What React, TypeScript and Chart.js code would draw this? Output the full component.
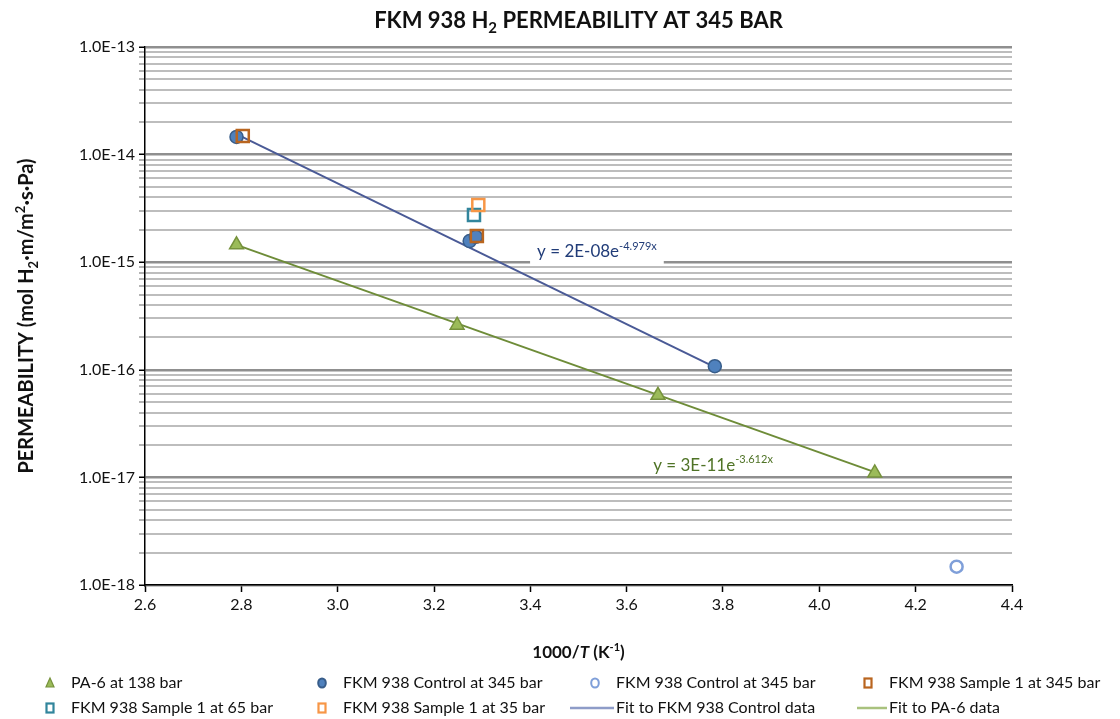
import React, { useEffect, useRef } from 'react';
import { Chart, registerables } from 'chart.js';

Chart.register(...registerables);

type Seg = { t: string; s?: 'i' | 'sub' | 'sup' };

const FONT = 'Lato, "Open Sans", sans-serif';

// ---- data ----
const paX = [2.79, 3.248, 3.665, 4.115];
const paY = [1.45e-15, 2.6e-16, 5.8e-17, 1.1e-17];

const ctrlX = [2.79, 3.274, 3.287, 3.783];
const ctrlY = [1.46e-14, 1.57e-15, 1.72e-15, 1.08e-16];

const ctrlOpenX = [4.285];
const ctrlOpenY = [1.48e-18];

const s345X = [2.803, 3.289];
const s345Y = [1.49e-14, 1.75e-15];

const s65X = [3.283];
const s65Y = [2.75e-15];

const s35X = [3.292];
const s35Y = [3.4e-15];

const fitCtrlX = [2.79, 3.783];
const fitCtrlY = [1.55e-14, 1.06e-16];

const fitPaX = [2.79, 4.115];
const fitPaY = [1.45e-15, 1.12e-17];

const xTicks = [2.6, 2.8, 3.0, 3.2, 3.4, 3.6, 3.8, 4.0, 4.2, 4.4];
const yDecades = [1e-18, 1e-17, 1e-16, 1e-15, 1e-14, 1e-13];
const yMinorMult = [2, 3, 4, 5, 6, 7, 8, 9];

const titleSegs: Seg[] = [{ t: 'FKM 938 H' }, { t: '2', s: 'sub' }, { t: ' PERMEABILITY AT 345 BAR' }];
const xTitleSegs: Seg[] = [{ t: '1000/' }, { t: 'T', s: 'i' }, { t: ' (K' }, { t: '-1', s: 'sup' }, { t: ')' }];
const yTitleSegs: Seg[] = [
  { t: 'PERMEABILITY (mol H' }, { t: '2', s: 'sub' }, { t: '·m/m' }, { t: '2', s: 'sup' }, { t: '·s·Pa)' },
];
const eqCtrlSegs: Seg[] = [{ t: 'y = 2E-08e' }, { t: '-4.979x', s: 'sup' }];
const eqPaSegs: Seg[] = [{ t: 'y = 3E-11e' }, { t: '-3.612x', s: 'sup' }];
const eqCtrlAt = { x: 3.414, y: 1.245e-15 };
const eqPaAt = { x: 3.655, y: 1.3e-17 };

const labels = [
  'PA-6 at 138 bar',
  'FKM 938 Control at 345 bar',
  'FKM 938 Control at 345 bar',
  'FKM 938 Sample 1 at 345 bar',
  'FKM 938 Sample 1 at 65 bar',
  'FKM 938 Sample 1 at 35 bar',
  'Fit to FKM 938 Control data',
  'Fit to PA-6 data',
];

const C = {
  paFill: '#9BBB59',
  paLine: '#76923C',
  ctrlFill: '#4F81BD',
  ctrlLine: '#385D8A',
  ctrlOpen: '#7F9FD9',
  s345: '#B9651F',
  s65: '#31859C',
  s35: '#F79646',
  fitCtrl: '#4A5A96',
  fitPa: '#6E8C38',
  eqCtrl: '#213C78',
  eqPa: '#4F7326',
};

const zip = (xs: number[], ys: number[]) => xs.map((x, i) => ({ x, y: ys[i] }));
const isDecade = (v: number) => Math.abs(Math.log10(v) - Math.round(Math.log10(v))) < 1e-6;

function segFont(s: Seg, size: number, weight: string) {
  const sz = s.s === 'sub' || s.s === 'sup' ? Math.round(size * 0.66) : size;
  return `${s.s === 'i' ? 'italic ' : ''}${weight} ${sz}px ${FONT}`;
}

function measureRich(ctx: CanvasRenderingContext2D, segs: Seg[], size: number, weight: string) {
  let w = 0;
  for (const s of segs) {
    ctx.font = segFont(s, size, weight);
    w += ctx.measureText(s.t).width;
  }
  return w;
}

function drawRich(
  ctx: CanvasRenderingContext2D,
  segs: Seg[],
  x: number,
  y: number,
  size: number,
  weight: string,
  color: string,
  align: 'center' | 'left',
) {
  const w = measureRich(ctx, segs, size, weight);
  let cx = align === 'center' ? x - w / 2 : x;
  ctx.fillStyle = color;
  ctx.textBaseline = 'middle';
  ctx.textAlign = 'left';
  for (const s of segs) {
    ctx.font = segFont(s, size, weight);
    const dy = s.s === 'sub' ? size * 0.32 : s.s === 'sup' ? -size * 0.32 : 0;
    ctx.fillText(s.t, cx, y + dy);
    cx += ctx.measureText(s.t).width;
  }
  return w;
}

type LegendItem = { label: string; kind: string; fill: string; stroke: string; col: number; row: number; lineLen?: number };
const legendItems: LegendItem[] = [
  { label: labels[0], kind: 'tri', fill: C.paFill, stroke: C.paLine, col: 0, row: 0 },
  { label: labels[1], kind: 'circle', fill: C.ctrlFill, stroke: C.ctrlLine, col: 1, row: 0 },
  { label: labels[2], kind: 'circle', fill: '#ffffff', stroke: C.ctrlOpen, col: 2, row: 0 },
  { label: labels[3], kind: 'rect', fill: '#ffffff', stroke: C.s345, col: 3, row: 0 },
  { label: labels[4], kind: 'rect', fill: '#ffffff', stroke: C.s65, col: 0, row: 1 },
  { label: labels[5], kind: 'rect', fill: '#ffffff', stroke: C.s35, col: 1, row: 1 },
  { label: labels[6], kind: 'line', fill: '', stroke: '#8E9CC8', col: 2, row: 1, lineLen: 44 },
  { label: labels[7], kind: 'line', fill: '', stroke: '#A9C27E', col: 3, row: 1, lineLen: 30 },
];
const legendTextX = [71, 343, 616, 889];
const legendRowY = [683, 708];

const overlay = {
  id: 'overlay',
  afterDraw(chart: any) {
    const { ctx, chartArea, scales } = chart;
    const cx = (chartArea.left + chartArea.right) / 2;
    ctx.save();
    // title
    drawRich(ctx, titleSegs, cx, 21, 22, 'bold', '#111', 'center');
    // axis titles
    drawRich(ctx, xTitleSegs, cx, 653, 17, 'bold', '#111', 'center');
    ctx.save();
    ctx.translate(27, (chartArea.top + chartArea.bottom) / 2);
    ctx.rotate(-Math.PI / 2);
    drawRich(ctx, yTitleSegs, 0, 0, 20, 'bold', '#111', 'center');
    ctx.restore();

    // equation labels
    const eqs = [
      { segs: eqCtrlSegs, at: eqCtrlAt, color: C.eqCtrl, box: true },
      { segs: eqPaSegs, at: eqPaAt, color: C.eqPa, box: false },
    ];
    for (const e of eqs) {
      const px = scales.x.getPixelForValue(e.at.x);
      const py = scales.y.getPixelForValue(e.at.y);
      const w = measureRich(ctx, e.segs, 17, 'normal');
      if (e.box) {
        ctx.fillStyle = '#ffffff';
        ctx.fillRect(px - 7, py - 13, w + 14, 26);
      }
      drawRich(ctx, e.segs, px, py, 17, 'normal', e.color, 'left');
    }

    // legend
    for (const it of legendItems) {
      const tx = legendTextX[it.col];
      const y = legendRowY[it.row];
      ctx.lineWidth = 2;
      ctx.strokeStyle = it.stroke;
      ctx.fillStyle = it.fill;
      const mx = tx - 21;
      if (it.kind === 'tri') {
        ctx.beginPath();
        ctx.moveTo(mx, y - 5);
        ctx.lineTo(mx + 4, y + 4);
        ctx.lineTo(mx - 4, y + 4);
        ctx.closePath();
        ctx.fill();
        ctx.lineWidth = 1.2;
        ctx.stroke();
      } else if (it.kind === 'circle') {
        ctx.beginPath();
        ctx.ellipse(mx, y, 3.8, 4.6, 0, 0, Math.PI * 2);
        ctx.fill();
        ctx.stroke();
      } else if (it.kind === 'rect') {
        ctx.lineWidth = 2.2;
        ctx.fillRect(mx - 3.5, y - 4.5, 7, 9);
        ctx.strokeRect(mx - 3.5, y - 4.5, 7, 9);
      } else {
        ctx.lineWidth = 2.5;
        ctx.beginPath();
        ctx.moveTo(tx - 2 - (it.lineLen || 40), y);
        ctx.lineTo(tx - 2, y);
        ctx.stroke();
      }
      ctx.fillStyle = '#111';
      ctx.font = `16px ${FONT}`;
      ctx.textBaseline = 'middle';
      ctx.textAlign = 'left';
      ctx.fillText(it.label, tx, y);
    }
    ctx.restore();
  },
};

export default function App() {
  const ref = useRef<HTMLCanvasElement | null>(null);
  useEffect(() => {
    document.body.style.margin = '0';
    if (!ref.current) return;
    const chart = new Chart(ref.current, {
      type: 'scatter',
      data: {
        datasets: [
          {
            label: labels[0], data: zip(paX, paY), pointStyle: 'triangle', pointRadius: 8,
            backgroundColor: C.paFill, borderColor: C.paLine, borderWidth: 1.5, order: 6,
          },
          {
            label: labels[1], data: zip(ctrlX, ctrlY), pointStyle: 'circle', pointRadius: 6.5,
            backgroundColor: C.ctrlFill, borderColor: C.ctrlLine, borderWidth: 1.5, order: 5,
          },
          {
            label: labels[2], data: zip(ctrlOpenX, ctrlOpenY), pointStyle: 'circle', pointRadius: 6,
            backgroundColor: 'rgba(255,255,255,0)', borderColor: C.ctrlOpen, borderWidth: 2.5, order: 4,
          },
          {
            label: labels[3], data: zip(s345X, s345Y), pointStyle: 'rect', pointRadius: 8.5,
            backgroundColor: 'rgba(0,0,0,0)', borderColor: C.s345, borderWidth: 2.5, order: 3,
          },
          {
            label: labels[4], data: zip(s65X, s65Y), pointStyle: 'rect', pointRadius: 8.5,
            backgroundColor: 'rgba(0,0,0,0)', borderColor: C.s65, borderWidth: 2.5, order: 2,
          },
          {
            label: labels[5], data: zip(s35X, s35Y), pointStyle: 'rect', pointRadius: 8.5,
            backgroundColor: 'rgba(0,0,0,0)', borderColor: C.s35, borderWidth: 2.5, order: 1,
          },
          {
            label: labels[6], data: zip(fitCtrlX, fitCtrlY), showLine: true, pointRadius: 0,
            borderColor: C.fitCtrl, borderWidth: 2, order: 10,
          },
          {
            label: labels[7], data: zip(fitPaX, fitPaY), showLine: true, pointRadius: 0,
            borderColor: C.fitPa, borderWidth: 2, order: 11,
          },
        ],
      },
      options: {
        animation: false,
        responsive: true,
        maintainAspectRatio: false,
        layout: { padding: { left: 0, right: 108, top: 47, bottom: 94 } },
        plugins: { legend: { display: false }, tooltip: { enabled: false }, title: { display: false } },
        scales: {
          x: {
            type: 'linear',
            min: 2.6,
            max: 4.4,
            afterBuildTicks: (scale: any) => {
              scale.ticks = xTicks.map((v) => ({ value: v }));
            },
            afterFit: (scale: any) => {
              scale.height = 40;
            },
            ticks: {
              autoSkip: false,
              padding: 3,
              color: '#111',
              font: { family: FONT, size: 16 },
              callback: (v: any) => Number(v).toFixed(1),
            },
            grid: { drawOnChartArea: false, drawTicks: true, tickLength: 7, tickColor: '#000', tickWidth: 1.5 },
            border: { display: true, color: '#000', width: 1.5 },
          },
          y: {
            type: 'logarithmic',
            min: 1e-18,
            max: 1e-13,
            afterBuildTicks: (scale: any) => {
              const t: any[] = [];
              yDecades.forEach((d, i) => {
                t.push({ value: d, major: true });
                if (i < yDecades.length - 1) yMinorMult.forEach((m) => t.push({ value: d * m, major: false }));
              });
              scale.ticks = t;
            },
            afterFit: (scale: any) => {
              scale.width = 145;
            },
            ticks: {
              autoSkip: false,
              padding: 4,
              color: '#111',
              font: { family: FONT, size: 16 },
              callback: (v: any) => (isDecade(Number(v)) ? Number(v).toExponential(1).toUpperCase() : ''),
            },
            grid: {
              color: (c: any) => (c.tick && isDecade(c.tick.value) ? '#8f8f8f' : '#bdbdbd'),
              lineWidth: (c: any) => (c.tick && isDecade(c.tick.value) ? 2.5 : 2),
              tickColor: (c: any) => (c.tick && isDecade(c.tick.value) ? '#000' : '#9a9a9a'),
              tickLength: 6,
              tickWidth: 1.5,
            },
            border: { display: true, color: '#000', width: 1.5 },
          },
        },
      },
      plugins: [overlay],
    } as any);
    return () => chart.destroy();
  }, []);
  return (
    <div style={{ position: 'relative', width: '1120px', height: '719px', background: '#fff' }}>
      <canvas ref={ref} />
    </div>
  );
}
